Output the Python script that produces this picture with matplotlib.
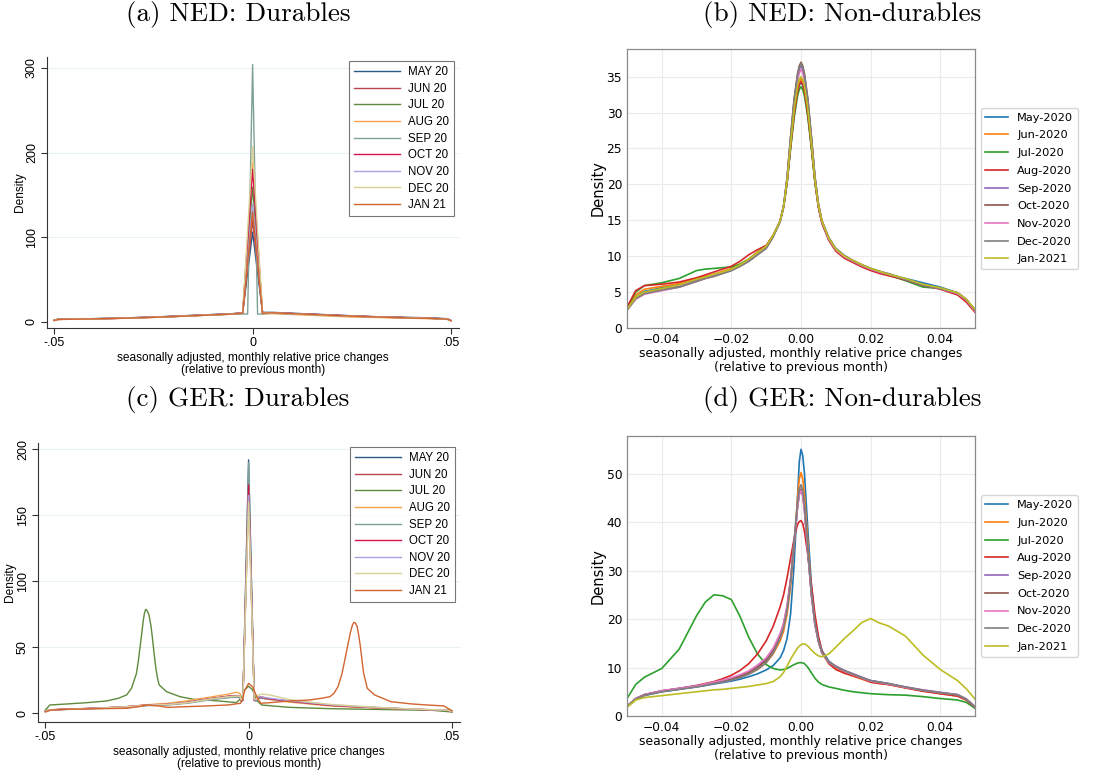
import matplotlib
matplotlib.use("Agg")
import matplotlib.pyplot as plt

W, H = 1095, 771

# ---------------- (a) NED durables (Stata kdensity) ----------------
ned_dur_x = [-0.05, -0.049, -0.045, -0.04, -0.035, -0.03, -0.025, -0.02, -0.015, -0.01, -0.005, -0.0025, -0.00125,
             0,
             0.00125, 0.0025, 0.005, 0.01, 0.015, 0.02, 0.025, 0.03, 0.035, 0.04, 0.045, 0.049, 0.05]
ned_dur_may = [1.8, 2.8, 3.0, 3.5, 4.0, 4.8, 5.5, 6.5, 7.5, 8.5, 9.5, 10.5, 58, 106, 58, 11.0, 11.0, 10.0, 9.0, 8.0, 7.0, 6.0, 5.5, 5.0, 4.5, 3.5, 1.5]
ned_dur_jun = [1.5, 2.7, 3.0, 3.4, 3.9, 4.6, 5.4, 6.3, 7.3, 8.3, 9.3, 10.3, 65, 120, 65, 10.5, 10.5, 9.5, 8.7, 7.7, 6.8, 6.0, 5.3, 4.6, 4.0, 3.2, 1.3]
ned_dur_jul = [1.6, 2.9, 3.2, 3.6, 4.0, 4.6, 5.3, 6.1, 7.1, 8.1, 9.0, 10.0, 84, 159, 84, 10.0, 10.3, 9.3, 8.4, 7.4, 6.5, 5.8, 5.1, 4.5, 3.9, 3.1, 1.2]
ned_dur_aug = [1.5, 2.6, 2.9, 3.3, 3.7, 4.3, 5.0, 5.9, 6.9, 7.9, 9.0, 10.5, 99, 187.5, 99, 9.5, 9.5, 8.5, 7.5, 6.5, 5.5, 5.0, 4.5, 4.0, 3.5, 3.0, 1.0]
ned_dur_sep = [1.6, 2.8, 3.1, 3.5, 3.9, 4.5, 5.2, 6.0, 7.0, 8.0, 8.8, 9.0, 9.0, 304, 9.0, 9.0, 10.0, 9.0, 8.2, 7.2, 6.4, 5.7, 5.1, 4.5, 4.0, 3.2, 1.2]
ned_dur_oct = [1.5, 2.7, 3.0, 3.4, 3.8, 4.5, 5.2, 6.1, 7.1, 8.1, 9.2, 10.3, 95, 180, 95, 10.3, 10.6, 9.6, 8.6, 7.6, 6.6, 5.8, 5.1, 4.5, 3.9, 3.1, 1.2]
ned_dur_nov = [1.5, 2.7, 3.0, 3.4, 3.9, 4.6, 5.3, 6.2, 7.2, 8.2, 9.2, 10.2, 74, 139, 74, 10.2, 10.5, 9.5, 8.5, 7.5, 6.6, 5.8, 5.1, 4.5, 3.9, 3.1, 1.2]
ned_dur_dec = [1.5, 2.6, 2.9, 3.3, 3.8, 4.4, 5.1, 6.0, 7.0, 8.0, 9.0, 10.0, 108, 207, 108, 10.0, 10.3, 9.3, 8.3, 7.3, 6.4, 5.7, 5.0, 4.4, 3.8, 3.0, 1.1]
ned_dur_jan = [1.4, 2.6, 2.9, 3.3, 3.7, 4.4, 5.1, 6.0, 7.0, 8.0, 9.0, 10.0, 70, 130, 70, 10.0, 10.5, 9.5, 8.5, 7.5, 6.5, 5.8, 5.0, 4.3, 3.8, 3.0, 1.2]

# ---------------- (c) GER durables (Stata kdensity) ----------------
ger_dur_x = [-0.05, -0.049, -0.045, -0.04, -0.035, -0.03, -0.025, -0.02, -0.015, -0.01, -0.005, -0.003, -0.0021, -0.0019, -0.0014,
             0,
             0.0014, 0.0019, 0.0021, 0.003, 0.005, 0.01, 0.015, 0.02, 0.025, 0.03, 0.035, 0.04, 0.045, 0.049, 0.05]
ger_dur_may = [1.5, 2.5, 3.0, 3.5, 4.0, 4.8, 6.0, 6.5, 8.0, 10.5, 12.0, 12.5, 12.3, 9.5, 10.0, 192, 10.0, 9.5, 11.5, 11.5, 10.8, 9.0, 7.5, 6.0, 5.2, 4.5, 3.8, 3.0, 2.5, 2.2, 1.3]
ger_dur_jun = [1.5, 2.6, 3.1, 3.6, 4.2, 5.0, 6.3, 7.0, 8.5, 11.0, 13.0, 13.5, 13.0, 9.8, 10.0, 171, 10.0, 9.8, 12.0, 12.5, 11.0, 9.0, 7.5, 6.0, 5.2, 4.4, 3.8, 3.1, 2.6, 2.2, 1.3]
ger_dur_aug = [1.5, 2.5, 3.0, 3.5, 4.1, 5.0, 6.5, 7.5, 9.5, 12.0, 14.5, 16.0, 15.0, 10.5, 11.0, 167, 10.0, 9.8, 12.0, 12.0, 10.5, 8.5, 7.0, 5.6, 4.8, 4.2, 3.6, 3.0, 2.6, 2.2, 1.3]
ger_dur_sep = [1.5, 2.4, 2.9, 3.4, 3.9, 4.6, 5.8, 6.3, 7.6, 10.0, 11.8, 12.2, 11.8, 9.2, 9.5, 190, 9.5, 9.2, 11.0, 11.8, 10.8, 9.0, 7.6, 6.2, 5.3, 4.6, 3.9, 3.1, 2.6, 2.3, 1.4]
ger_dur_oct = [1.5, 2.6, 3.1, 3.6, 4.2, 5.0, 6.2, 6.8, 8.2, 10.8, 12.8, 13.0, 12.8, 9.8, 10.0, 173, 10.0, 9.8, 11.8, 12.2, 11.0, 9.2, 7.6, 6.0, 5.2, 4.4, 3.8, 3.1, 2.6, 2.2, 1.3]
ger_dur_nov = [1.5, 2.5, 3.0, 3.5, 4.1, 4.9, 6.1, 6.7, 8.1, 10.6, 12.6, 13.0, 12.8, 10.0, 10.2, 165, 10.2, 10.0, 12.0, 12.5, 11.5, 9.5, 8.0, 6.4, 5.5, 4.6, 3.9, 3.2, 2.7, 2.3, 1.4]
ger_dur_dec = [1.5, 2.5, 3.0, 3.5, 4.1, 4.9, 6.0, 6.6, 8.0, 10.5, 12.5, 13.0, 13.0, 10.5, 11.0, 160, 11.0, 10.5, 13.0, 14.5, 14.0, 10.5, 8.5, 6.8, 5.8, 4.8, 4.0, 3.3, 2.8, 2.4, 1.4]
ger_dur_jul_x = [-0.05, -0.0489, -0.045, -0.04, -0.035, -0.032, -0.03, -0.0288,
                 -0.0276, -0.0271, -0.0267, -0.0263, -0.0259, -0.0256, -0.0253, -0.0249, -0.0245, -0.024, -0.0236, -0.0232, -0.0228, -0.0224, -0.022,
                 -0.0202, -0.0169, -0.0136, -0.0104, -0.0054, -0.003, -0.0018, -0.001, 0,
                 0.001, 0.0019, 0.0032, 0.005, 0.01, 0.02, 0.03, 0.04, 0.045, 0.05]
ger_dur_jul = [2.5, 6.3, 7.0, 8.0, 9.3, 11.4, 13.9, 19.0,
               30.0, 40.0, 50.0, 60.0, 70.5, 76.0, 78.8, 77.5, 74.5, 66.0, 55.6, 44.0, 34.0, 26.5, 21.5,
               16.4, 12.6, 10.6, 10.1, 8.8, 8.1, 11.4, 17.7, 20.5,
               17.7, 10.0, 6.3, 5.8, 4.5, 3.5, 3.0, 2.5, 2.3, 1.0]
ger_dur_jan_x = [-0.05, -0.0485, -0.045, -0.04, -0.03, -0.027, -0.025, -0.022, -0.02, -0.01,
                 -0.005, -0.002, -0.0015, -0.001, 0, 0.001, 0.002, 0.003, 0.005, 0.01,
                 0.015, 0.018, 0.02, 0.021, 0.022, 0.023, 0.024, 0.025, 0.0255, 0.0259,
                 0.0263, 0.0267, 0.0271, 0.0275, 0.0279, 0.0283, 0.0292, 0.031, 0.035, 0.04,
                 0.045, 0.048, 0.05]
ger_dur_jan = [1.0, 2.5, 3.0, 3.3, 3.8, 5.0, 6.3, 5.5, 4.5, 5.6,
               6.3, 7.6, 10.0, 17.0, 22.7, 20.0, 12.6, 7.6, 8.0, 9.3,
               10.1, 11.4, 12.6, 15.1, 20.2, 30.3, 45.5, 60.6, 66.5, 68.9,
               68.3, 65.7, 59.0, 50.5, 40.0, 30.3, 18.9, 13.9, 8.8, 7.1,
               6.1, 5.6, 2.0]

# ---------------- (b) / (d) non-durables (python kde) ----------------
nd_x = [-0.05, -0.0475, -0.045, -0.04, -0.035, -0.03, -0.0275, -0.025, -0.0225, -0.02, -0.0175, -0.015, -0.0125, -0.01,
        -0.008, -0.006, -0.005, -0.004, -0.003, -0.002, -0.001, -0.0005,
        0,
        0.0005, 0.001, 0.002, 0.003, 0.004, 0.005, 0.006, 0.008, 0.01, 0.0125, 0.015, 0.0175, 0.02, 0.0225, 0.025,
        0.03, 0.035, 0.04, 0.045, 0.0475, 0.05]

ned_nd_may = [2.6, 4.3, 5.1, 5.6, 6.1, 6.8, 7.1, 7.4, 7.8, 8.2, 8.8, 9.5, 10.4, 11.3, 12.8, 14.8, 16.8, 20.3, 25.2, 29.6, 32.8, 33.8, 34.2,
              33.8, 32.8, 29.6, 25.2, 20.4, 16.9, 14.7, 12.3, 10.8, 9.8, 9.2, 8.6, 8.1, 7.8, 7.5, 6.9, 6.3, 5.7, 4.9, 3.9, 2.5]
ned_nd_jun = [2.7, 4.6, 5.4, 5.8, 6.2, 6.9, 7.2, 7.5, 7.9, 8.3, 8.9, 9.6, 10.6, 11.4, 12.9, 14.9, 16.9, 20.4, 25.4, 30.0, 33.2, 34.25, 34.7,
              34.25, 33.2, 30.0, 25.4, 20.5, 16.9, 14.7, 12.3, 10.8, 9.8, 9.2, 8.6, 8.1, 7.7, 7.4, 6.7, 6.0, 5.5, 4.8, 3.9, 2.4]
ned_nd_jul = [2.8, 5.0, 5.9, 6.3, 6.9, 8.0, 8.2, 8.3, 8.4, 8.5, 8.9, 9.6, 10.5, 11.4, 12.9, 14.9, 16.9, 20.2, 24.9, 29.2, 32.3, 33.2, 33.6,
              33.2, 32.3, 29.2, 24.9, 20.3, 16.9, 14.7, 12.4, 10.9, 9.9, 9.3, 8.7, 8.2, 7.8, 7.4, 6.6, 5.7, 5.5, 4.8, 3.9, 2.5]
ned_nd_aug = [2.9, 5.2, 5.9, 6.1, 6.4, 7.0, 7.4, 7.8, 8.2, 8.6, 9.3, 10.2, 10.9, 11.5, 12.9, 14.9, 16.9, 20.3, 25.2, 29.7, 32.9, 33.9, 34.3,
              33.9, 32.9, 29.7, 25.2, 20.4, 16.8, 14.6, 12.2, 10.7, 9.7, 9.1, 8.5, 8.0, 7.6, 7.3, 6.7, 6.0, 5.4, 4.6, 3.6, 2.2]
ned_nd_sep = [2.6, 4.2, 4.9, 5.4, 5.8, 6.6, 7.0, 7.3, 7.7, 8.1, 8.7, 9.4, 10.3, 11.2, 12.8, 14.9, 17.0, 20.8, 26.3, 31.4, 34.9, 36.0, 36.5,
              36.0, 34.9, 31.4, 26.3, 21.0, 17.2, 14.9, 12.4, 10.9, 9.9, 9.3, 8.7, 8.2, 7.8, 7.5, 6.8, 6.0, 5.5, 4.8, 3.9, 2.4]
ned_nd_oct = [2.5, 4.1, 4.8, 5.3, 5.7, 6.5, 6.9, 7.2, 7.6, 8.0, 8.6, 9.3, 10.2, 11.1, 12.7, 14.9, 17.0, 20.9, 26.6, 31.8, 35.4, 36.5, 37.0,
              36.5, 35.4, 31.8, 26.6, 21.1, 17.3, 14.9, 12.5, 11.0, 10.0, 9.4, 8.8, 8.3, 7.9, 7.5, 6.7, 5.9, 5.5, 4.9, 4.0, 2.5]
ned_nd_nov = [2.5, 4.0, 4.7, 5.2, 5.7, 6.5, 6.9, 7.3, 7.7, 8.1, 8.7, 9.4, 10.3, 11.2, 12.8, 14.9, 16.9, 20.7, 26.0, 31.0, 34.4, 35.5, 36.0,
              35.5, 34.4, 31.0, 26.0, 20.9, 17.1, 14.8, 12.4, 10.9, 9.9, 9.3, 8.7, 8.2, 7.8, 7.5, 6.8, 6.0, 5.5, 4.8, 3.9, 2.4]
ned_nd_dec = [2.5, 4.1, 4.8, 5.3, 5.7, 6.5, 6.9, 7.2, 7.6, 8.0, 8.6, 9.3, 10.2, 11.1, 12.7, 14.8, 17.0, 20.9, 26.5, 31.6, 35.2, 36.3, 36.8,
              36.3, 35.2, 31.6, 26.5, 21.1, 17.3, 15.0, 12.6, 11.1, 10.1, 9.4, 8.8, 8.3, 7.9, 7.6, 6.8, 6.0, 5.5, 4.9, 4.0, 2.5]
ned_nd_jan = [2.6, 4.3, 5.0, 5.5, 6.0, 6.8, 7.1, 7.5, 7.8, 8.2, 8.8, 9.6, 10.5, 11.4, 12.9, 14.9, 16.9, 20.5, 25.6, 30.3, 33.6, 34.6, 35.0,
              34.6, 33.6, 30.3, 25.6, 20.7, 17.1, 14.9, 12.5, 11.0, 10.0, 9.4, 8.8, 8.3, 7.9, 7.5, 6.9, 6.1, 5.6, 4.9, 4.0, 2.6]

ger_nd_may = [1.9, 3.4, 4.2, 5.0, 5.5, 6.0, 6.3, 6.6, 6.9, 7.2, 7.6, 8.1, 8.7, 9.5, 10.4, 12.0, 13.5, 16.0, 21.0, 31.0, 45.0, 52.4, 55.0,
              53.7, 50.0, 38.0, 27.0, 20.0, 16.0, 13.5, 11.3, 10.2, 9.2, 8.5, 7.9, 7.3, 7.0, 6.7, 5.9, 5.2, 4.8, 4.3, 3.4, 1.8]
ger_nd_jun = [1.9, 3.5, 4.3, 5.1, 5.6, 6.1, 6.4, 6.8, 7.1, 7.5, 8.0, 8.7, 9.6, 11.0, 12.8, 15.5, 17.5, 21.0, 26.5, 35.0, 45.0, 48.8, 50.2,
              49.0, 45.5, 35.5, 26.0, 19.5, 15.5, 13.0, 10.8, 9.8, 8.9, 8.2, 7.6, 7.0, 6.7, 6.5, 5.8, 5.2, 4.6, 4.1, 3.3, 1.8]
ger_nd_jul = [3.6, 6.5, 8.0, 9.8, 13.8, 20.7, 23.5, 25.0, 24.8, 24.0, 20.5, 16.2, 12.8, 10.6, 9.8, 9.5, 9.6, 9.8, 10.2, 10.6, 10.9, 11.0, 11.0,
              10.95, 10.8, 10.0, 8.9, 7.8, 7.0, 6.5, 6.0, 5.7, 5.3, 5.0, 4.8, 4.6, 4.5, 4.4, 4.3, 4.0, 3.6, 3.3, 2.8, 1.6]
ger_nd_aug = [1.9, 3.5, 4.4, 5.2, 5.7, 6.3, 6.7, 7.1, 7.7, 8.4, 9.4, 10.8, 12.8, 15.5, 18.5, 22.5, 25.0, 28.5, 32.5, 36.5, 39.5, 40.1, 40.3,
              39.7, 38.0, 33.0, 27.0, 21.0, 16.5, 13.5, 10.8, 9.6, 8.8, 8.3, 7.7, 7.0, 6.7, 6.5, 5.8, 5.1, 4.6, 4.1, 3.3, 1.8]
ger_nd_sep = [2.0, 3.6, 4.4, 5.2, 5.7, 6.2, 6.5, 6.9, 7.3, 7.8, 8.4, 9.2, 10.3, 11.8, 13.8, 16.8, 19.0, 22.5, 28.0, 35.5, 43.0, 45.7, 46.6,
              45.5, 42.5, 33.5, 25.0, 19.0, 15.5, 13.2, 11.2, 10.3, 9.4, 8.7, 8.0, 7.3, 7.0, 6.7, 6.0, 5.4, 4.9, 4.4, 3.5, 1.9]
ger_nd_oct = [2.0, 3.6, 4.4, 5.1, 5.6, 6.1, 6.4, 6.8, 7.2, 7.6, 8.2, 9.0, 10.0, 11.5, 13.5, 16.5, 18.8, 22.3, 28.0, 35.5, 43.2, 45.9, 46.8,
              45.7, 42.6, 33.5, 25.0, 19.0, 15.4, 13.1, 11.1, 10.2, 9.3, 8.6, 7.9, 7.2, 6.9, 6.6, 5.9, 5.3, 4.8, 4.3, 3.4, 1.9]
ger_nd_nov = [2.0, 3.6, 4.4, 5.2, 5.7, 6.2, 6.6, 7.0, 7.4, 7.9, 8.5, 9.3, 10.5, 12.0, 14.0, 17.0, 19.2, 22.8, 28.2, 35.6, 43.0, 45.6, 46.5,
              45.4, 42.3, 33.3, 24.8, 18.8, 15.3, 13.0, 11.0, 10.1, 9.2, 8.5, 7.8, 7.2, 6.9, 6.6, 5.9, 5.3, 4.8, 4.4, 3.5, 1.9]
ger_nd_dec = [2.0, 3.5, 4.3, 5.0, 5.5, 6.0, 6.3, 6.7, 7.0, 7.4, 7.9, 8.6, 9.6, 11.0, 13.0, 16.0, 18.2, 21.8, 27.5, 36.0, 44.0, 46.8, 47.7,
              46.6, 43.5, 34.0, 25.3, 19.2, 15.5, 13.2, 11.1, 10.2, 9.3, 8.6, 7.9, 7.3, 7.0, 6.7, 6.0, 5.3, 4.8, 4.4, 3.5, 1.9]
ger_nd_jan = [1.8, 3.3, 3.8, 4.2, 4.6, 5.0, 5.2, 5.4, 5.5, 5.7, 5.9, 6.1, 6.4, 6.7, 7.1, 8.1, 9.0, 10.3, 11.7, 12.9, 14.0, 14.4, 14.7,
              14.85, 14.9, 14.4, 13.6, 12.9, 12.4, 12.2, 12.8, 14.2, 16.0, 17.6, 19.3, 20.1, 19.2, 18.6, 16.5, 12.6, 9.6, 7.3, 5.6, 3.5]

stata_labels = ["MAY 20", "JUN 20", "JUL 20", "AUG 20", "SEP 20", "OCT 20", "NOV 20", "DEC 20", "JAN 21"]
py_labels = ["May-2020", "Jun-2020", "Jul-2020", "Aug-2020", "Sep-2020", "Oct-2020", "Nov-2020", "Dec-2020", "Jan-2021"]
stata_colors = ["#2c5a87", "#b8444e", "#5f8a3c", "#f5a24e", "#7fa096", "#d3154a", "#aaa3e2", "#d9d194", "#d2642f"]
py_colors = ["#1f77b4", "#ff7f0e", "#2ca02c", "#d62728", "#9467bd", "#8c564b", "#e377c2", "#7f7f7f", "#bcbd22"]

XLABEL = "seasonally adjusted, monthly relative price changes\n(relative to previous month)"


def px_axes(fig, left, top, right, bottom):
    return fig.add_axes([left / W, 1 - bottom / H, (right - left) / W, (bottom - top) / H])


def stata_panel(ax, series, ylim, yticks, legend_anchor):
    sans = "Liberation Sans"
    for (xs, ys), lab, col in zip(series, stata_labels, stata_colors):
        ax.plot(xs, ys, color=col, lw=1.0, label=lab)
    ax.set_xlim(-0.0518, 0.052)
    ax.set_ylim(*ylim)
    ax.set_xticks([-0.05, 0, 0.05])
    ax.set_xticklabels(["-.05", "0", ".05"], fontfamily=sans, fontsize=9)
    ax.set_yticks(yticks)
    ax.set_yticklabels([str(v) for v in yticks], fontfamily=sans, fontsize=9,
                       rotation=90, va="center")
    ax.tick_params(axis="both", direction="out", length=4, width=0.8, color="#333333", pad=2.5)
    for s in ["top", "right"]:
        ax.spines[s].set_visible(False)
    for s in ["left", "bottom"]:
        ax.spines[s].set_color("#333333")
        ax.spines[s].set_linewidth(0.8)
    for v in yticks[1:]:
        ax.axhline(v, color="#e8f0f2", lw=0.8, zorder=0)
    ax.set_xlabel(XLABEL, fontfamily=sans, fontsize=8.6, linespacing=1.0, labelpad=2)
    ax.set_ylabel("Density", fontfamily=sans, fontsize=8.6)
    leg = ax.legend(loc="upper right", bbox_to_anchor=legend_anchor, prop={"family": sans, "size": 8.3},
                    frameon=True, fancybox=False, handlelength=4.0, handletextpad=0.65,
                    labelspacing=0.4, borderpad=0.45, borderaxespad=0.0)
    leg.get_frame().set_edgecolor("#555555")
    leg.get_frame().set_linewidth(0.8)
    return ax


def py_panel(ax, series, ylim, yticks):
    for ys, lab, col in zip(series, py_labels, py_colors):
        ax.plot(nd_x, ys, color=col, lw=1.2, label=lab)
    ax.set_xlim(-0.05, 0.05)
    ax.set_ylim(*ylim)
    ax.set_xticks([-0.04, -0.02, 0.0, 0.02, 0.04])
    ax.set_xticklabels(["\u22120.04", "\u22120.02", "0.00", "0.02", "0.04"])
    ax.set_yticks(yticks)
    ax.tick_params(axis="both", length=0, pad=3.5, labelsize=8.8)
    ax.grid(True, color="#ebebeb", lw=0.8)
    ax.set_axisbelow(True)
    for s in ax.spines.values():
        s.set_color("#8a8a8a")
        s.set_linewidth(0.9)
    ax.set_xlabel(XLABEL, fontsize=8.9, linespacing=1.1, labelpad=1)
    ax.set_ylabel("Density", fontsize=10.5)
    ax.legend(loc="center left", bbox_to_anchor=(1.0, 0.5), fontsize=8.2, borderaxespad=0.5,
              labelspacing=0.68)
    return ax


fig = plt.figure(figsize=(W / 100, H / 100), dpi=100)

ax_a = px_axes(fig, 47, 57, 459, 328)
stata_panel(ax_a,
            [(ned_dur_x, s) for s in [ned_dur_may, ned_dur_jun, ned_dur_jul, ned_dur_aug, ned_dur_sep,
                                      ned_dur_oct, ned_dur_nov, ned_dur_dec, ned_dur_jan]],
            (-7.5, 313), [0, 100, 200, 300], (0.988, 0.985))
ax_a.yaxis.set_label_coords((26 - 47) / 412, 0.5)

ax_c = px_axes(fig, 38, 443, 460, 722)
stata_panel(ax_c,
            [(ger_dur_x, ger_dur_may), (ger_dur_x, ger_dur_jun), (ger_dur_jul_x, ger_dur_jul),
             (ger_dur_x, ger_dur_aug), (ger_dur_x, ger_dur_sep), (ger_dur_x, ger_dur_oct),
             (ger_dur_x, ger_dur_nov), (ger_dur_x, ger_dur_dec), (ger_dur_jan_x, ger_dur_jan)],
            (-6.6, 204.8), [0, 50, 100, 150, 200], (0.988, 0.986))
ax_c.yaxis.set_label_coords((16 - 38) / 422, 0.5)

ax_b = px_axes(fig, 627, 49, 975, 328)
py_panel(ax_b, [ned_nd_may, ned_nd_jun, ned_nd_jul, ned_nd_aug, ned_nd_sep, ned_nd_oct,
                ned_nd_nov, ned_nd_dec, ned_nd_jan], (0, 38.85), [0, 5, 10, 15, 20, 25, 30, 35])
ax_b.yaxis.set_label_coords((606 - 627) / 348, 0.5)

ax_d = px_axes(fig, 627, 436, 975, 716)
py_panel(ax_d, [ger_nd_may, ger_nd_jun, ger_nd_jul, ger_nd_aug, ger_nd_sep, ger_nd_oct,
                ger_nd_nov, ger_nd_dec, ger_nd_jan], (0, 57.75), [0, 10, 20, 30, 40, 50])
ax_d.yaxis.set_label_coords((606 - 627) / 348, 0.5)

title_kw = dict(fontfamily="cmr10", fontsize=19.5, ha="center", va="center")
fig.text(238 / W, 1 - 14 / H, "(a) NED: Durables", **title_kw)
fig.text(842 / W, 1 - 14 / H, "(b) NED: Non-durables", **title_kw)
fig.text(238 / W, 1 - 399 / H, "(c) GER: Durables", **title_kw)
fig.text(842 / W, 1 - 399 / H, "(d) GER: Non-durables", **title_kw)

fig.savefig("out.png", dpi=100, facecolor="white")
